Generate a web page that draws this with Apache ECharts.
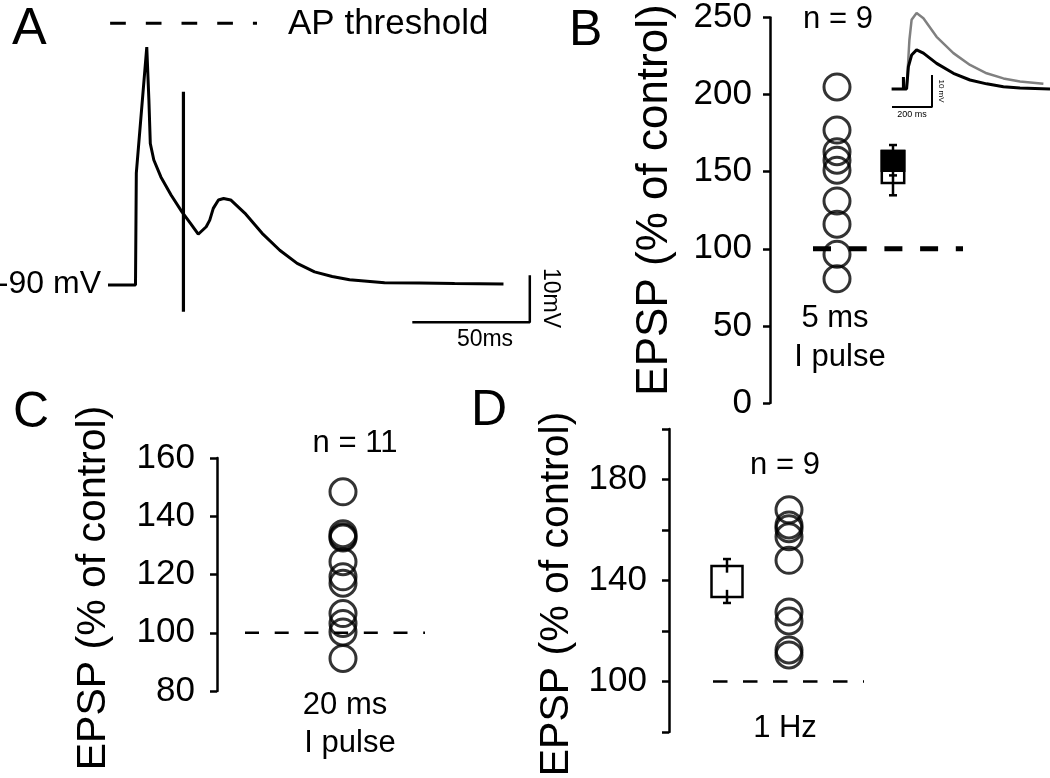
<!DOCTYPE html>
<html><head><meta charset="utf-8">
<script src="https://cdn.jsdelivr.net/npm/echarts@6.0.0/dist/echarts.min.js"></script>
<style>html,body{margin:0;padding:0;background:#fff;}#c{width:1050px;height:778px;}</style>
</head><body><div id="c"></div>
<script>
const FONT = '"Liberation Sans", Arial, Helvetica, sans-serif';

// ---------- Panel A: membrane potential trace (ms, mV) ----------
const traceA = [[0,-90],[11.7,-90],[12.05,-66.2],[16.5,-39.4],[16.9,-39.6],[17.4,-50.6],[18.0,-59.9],[19.5,-63.4],
  [22.5,-67.0],[26.9,-70.9],[31.4,-74.4],[35.1,-76.9],[38.4,-79.2],[41.8,-77.6],[43.3,-76.2],[44.8,-73.7],
  [47.0,-71.9],[49.2,-71.6],[52.2,-71.9],[58.2,-74.7],[65.6,-79.0],[73.1,-82.6],[80.5,-85.4],[87.9,-87.2],
  [95.4,-88.2],[102.8,-88.9],[117.7,-89.5],[132.6,-89.6],[147.5,-89.7],[168.3,-89.8]];
const stimA = [[32.1,-48.9],[32.1,-95.7]];
const apThresholdA = [[0.9,-34.3],[63.4,-34.3]];
const scaleBarA = [[129.5,-97.9],[179.5,-97.9],[179.5,-87.9]]; // 50 ms, 10 mV

// ---------- Panel B inset: EPSP traces (ms, mV) ----------
const insetBlack = [[58,0],[117,0],[117,3.75],[118.5,0],[133,0],[142,7.0],[158,10.6],[183,12.2],[217,11.2],
  [283,8.0],[367,4.9],[450,2.8],[533,1.6],[617,0.7],[700,0.3],[850,0]];
const insetGray = [[133,0],[147,15.3],[158,21.6],[183,23.7],[217,22.1],[283,16.3],[367,11.2],[450,7.5],
  [533,4.9],[617,3.3],[700,2.3],[817,1.6]];
const insetScale = [[60,-5.6],[260,-5.6],[260,4.4]]; // 200 ms, 10 mV

// ---------- Panel B: EPSP (% of control), 5 ms I pulse ----------
const epspB = [205,177,163,157.5,151,131,116,96.5,80.5];
const boxB = [142.6,163.5];        // open box
const boxB_filled = [150.6,163.5]; // filled part
const meanB = 147.6;
const whiskerB = [134.7,167.3];

// ---------- Panel C: 20 ms I pulse ----------
const epspC = [148.4,134,133,132.5,124.4,119.2,117,106.6,103.2,100.3,91.2];

// ---------- Panel D: 1 Hz ----------
const epspD = [168,162,160.5,157.3,148,127.5,124,112.5,110.5];
const boxD = [133.5,145.7];
const whiskerD = [131.1,148.5];
const whiskerD_inner = [136.3,143.1];

const controlLevel = 100;

// ---------- helpers ----------
const hiddenX = (gi,min,max)=>({gridIndex:gi,type:'value',min,max,show:false});
const hiddenY = (gi,min,max)=>({gridIndex:gi,type:'value',min,max,show:false});
function shownY(gi,min,max,interval,margin,fmt){
  return {gridIndex:gi,type:'value',min,max,interval,
    axisLine:{show:true,lineStyle:{color:'#000',width:2.5}},
    axisTick:{show:true,inside:false,length:7,lineStyle:{color:'#000',width:2.5}},
    splitLine:{show:false},
    axisLabel:{color:'#000',fontSize:35,fontFamily:FONT,margin,formatter:fmt||'{value}'}};
}
function line(xi,yi,data,color,width,type){
  return {type:'line',xAxisIndex:xi,yAxisIndex:yi,data,symbol:'none',silent:true,
    lineStyle:{color,width,type:type||'solid'},z:2};
}
function circles(xi,data,xpos){
  return {type:'scatter',xAxisIndex:xi,yAxisIndex:xi,data:data.map(v=>[xpos,v]),symbol:'circle',symbolSize:26,
    itemStyle:{color:'rgba(0,0,0,0)',borderColor:'#000',borderWidth:3},z:5};
}
function txt(x,y,text,size,align,rot){
  return {type:'text',x,y,rotation:rot||0,silent:true,
    style:{text,font:size+'px '+FONT,fill:'#000',align:align||'center',verticalAlign:'middle',
      textAlign:align||'center',textVerticalAlign:'middle'}};
}

const posB_circ = 3.35, posB_box = 6.15;
const posC_circ = 6.3;
const posD_circ = 6.0, posD_box = 2.9;

const option = {
  animation:false,
  backgroundColor:'#fff',
  grid:[
    {left:108,top:3,width:440.6,height:329},   // A
    {left:880,top:0,width:170,height:120},     // B inset
    {left:770,top:15,width:200,height:388},    // B
    {left:217,top:458,width:220,height:233},   // C
    {left:669,top:429,width:200,height:303}    // D
  ],
  xAxis:[hiddenX(0,0,187.5),hiddenX(1,0,850),hiddenX(2,0,10),hiddenX(3,0,11),hiddenX(4,0,10)],
  yAxis:[hiddenY(0,-100,-30),hiddenY(1,-9.7,27.8),
    shownY(2,0,250,50,18),shownY(3,80,160,20,22),
    shownY(4,80,200,20,22,v=>((v-100)%40===0?String(v):''))],
  series:[
    // A
    line(0,0,traceA,'#000',3),
    line(0,0,stimA,'#000',3.2),
    line(0,0,apThresholdA,'#000',3,[15.7,20]),
    line(0,0,scaleBarA,'#000',2.5),
    // inset
    line(1,1,insetGray,'#808080',2.5),
    line(1,1,insetBlack,'#000',3),
    line(1,1,insetScale,'#000',2),
    // B
    line(2,2,[[2.15,controlLevel],[9.65,controlLevel]],'#000',5,[18,17.7]),
    circles(2,epspB,posB_circ),
    {type:'custom',xAxisIndex:2,yAxisIndex:2,z:4,silent:true,
      data:[[posB_box,boxB[0],boxB[1],boxB_filled[0],boxB_filled[1],meanB,whiskerB[0],whiskerB[1]]],
      renderItem:(params,api)=>{
        const x=api.value(0);
        const cx=api.coord([x,0])[0];
        const hw=api.size([0.56,0])[0];
        const Y=i=>api.coord([x,api.value(i)])[1];
        const lo=Y(1),hi=Y(2),flo=Y(3),fhi=Y(4),mn=Y(5),wlo=Y(6),whi=Y(7);
        const st={stroke:'#000',lineWidth:2.5,fill:null};
        return {type:'group',children:[
          {type:'line',shape:{x1:cx,y1:wlo,x2:cx,y2:whi},style:st},
          {type:'line',shape:{x1:cx-4,y1:wlo,x2:cx+4,y2:wlo},style:st},
          {type:'line',shape:{x1:cx-4,y1:whi,x2:cx+4,y2:whi},style:st},
          {type:'rect',shape:{x:cx-hw,y:hi,width:2*hw,height:lo-hi},style:{stroke:'#000',lineWidth:2.5,fill:'rgba(0,0,0,0)'}},
          {type:'rect',shape:{x:cx-hw,y:fhi,width:2*hw,height:flo-fhi},style:{stroke:'#000',lineWidth:2.5,fill:'#000'}},
          {type:'line',shape:{x1:cx-4,y1:mn,x2:cx+4,y2:mn},style:st}
        ]};
      }},
    // C
    line(3,3,[[1.4,controlLevel],[10.4,controlLevel]],'#000',2.5,[14,15.7]),
    circles(3,epspC,posC_circ),
    // D
    line(4,4,[[2.2,controlLevel],[9.75,controlLevel]],'#000',2.5,[14.5,15.5]),
    circles(4,epspD,posD_circ),
    {type:'custom',xAxisIndex:4,yAxisIndex:4,z:4,silent:true,
      data:[[posD_box,boxD[0],boxD[1],whiskerD[0],whiskerD[1],whiskerD_inner[0],whiskerD_inner[1]]],
      renderItem:(params,api)=>{
        const x=api.value(0);
        const cx=api.coord([x,0])[0];
        const hw=api.size([0.775,0])[0];
        const Y=i=>api.coord([x,api.value(i)])[1];
        const lo=Y(1),hi=Y(2),wlo=Y(3),whi=Y(4),ilo=Y(5),ihi=Y(6);
        const st={stroke:'#000',lineWidth:2.5,fill:null};
        return {type:'group',children:[
          {type:'rect',shape:{x:cx-hw,y:hi,width:2*hw,height:lo-hi},style:{stroke:'#000',lineWidth:2.5,fill:'rgba(0,0,0,0)'}},
          {type:'line',shape:{x1:cx,y1:wlo,x2:cx,y2:ilo},style:st},
          {type:'line',shape:{x1:cx,y1:ihi,x2:cx,y2:whi},style:st},
          {type:'line',shape:{x1:cx-4,y1:wlo,x2:cx+4,y2:wlo},style:st},
          {type:'line',shape:{x1:cx-4,y1:whi,x2:cx+4,y2:whi},style:st}
        ]};
      }}
  ],
  graphic:[
    txt(12,30,'A',52,'left'),
    txt(288,24,'AP threshold',35,'left'),
    txt(101,284,'-90 mV',32,'right'),
    txt(485,340,'50ms',23,'center'),
    txt(550,298,'10mV',23,'center',-Math.PI/2),
    txt(569,31,'B',50,'left'),
    txt(655,200,'EPSP (% of control)',44,'center',Math.PI/2),
    txt(838,19,'n = 9',31,'center'),
    txt(835,318,'5 ms',31,'center'),
    txt(840,357,'I pulse',31,'center'),
    txt(941,91,'10 mV',8,'center',-Math.PI/2),
    txt(912,115,'200 ms',9,'center'),
    txt(13,413,'C',50,'left'),
    txt(94,588,'EPSP (% of control)',41,'center',Math.PI/2),
    txt(355,443,'n = 11',31,'center'),
    txt(345,705,'20 ms',31,'center'),
    txt(350,743,'I pulse',31,'center'),
    txt(471,411,'D',50,'left'),
    txt(557,594,'EPSP (% of control)',41,'center',Math.PI/2),
    txt(785,465,'n = 9',31,'center'),
    txt(785,728,'1 Hz',31,'center')
  ]
};
const chart = echarts.init(document.getElementById('c'),null,{renderer:'canvas'});
chart.setOption(option);
</script></body></html>
